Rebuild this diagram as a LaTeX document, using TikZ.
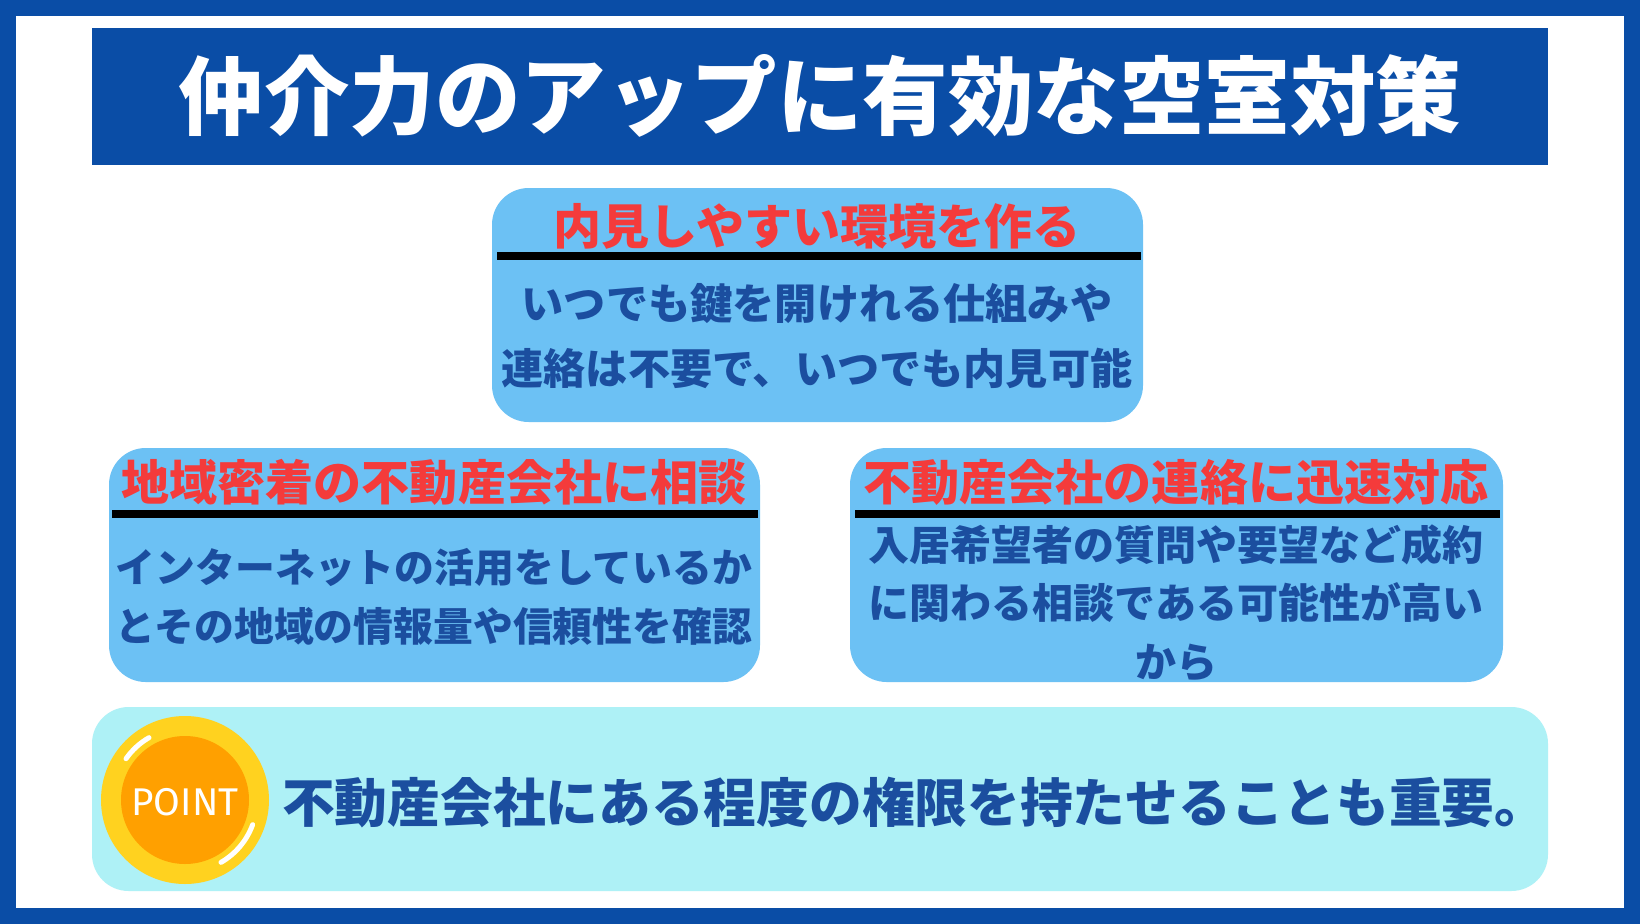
\documentclass[tikz,border=0pt]{standalone}
\usepackage{fontspec}
\newfontfamily\jp{Noto Sans CJK JP}
\newfontfamily\coinfont{Fira Sans}
\definecolor{frameblue}{HTML}{0A4DA6}
\definecolor{boxblue}{HTML}{6CC1F4}
\definecolor{headred}{HTML}{F43B3B}
\definecolor{textblue}{HTML}{1B4E9F}
\definecolor{pointbg}{HTML}{AEF1F6}
\definecolor{coinyel}{HTML}{FFD21F}
\definecolor{coinorg}{HTML}{FFA000}
\tikzset{
  card/.style={fill=boxblue, rounded corners=11mm},
  headtxt/.style={font=\jp\bfseries\fontsize{41}{46}\selectfont, text=headred},
  bodytxt/.style={font=\jp\bfseries\fontsize{34}{50}\selectfont, text=textblue, align=center},
  rule/.style={line width=2.4mm, black},
}
\begin{document}
\begin{tikzpicture}[x=0.3mm,y=-0.3mm]
\useasboundingbox (0,0) rectangle (1640,924);
\fill[frameblue] (0,0) rectangle (1640,924);
\fill[white] (16,16) rectangle (1624,908);

% title
\fill[frameblue] (92,28) rectangle (1548,165);
\node[font=\jp\bfseries\fontsize{73}{80}\selectfont, text=white] (title) at (820,96) {仲介力のアップに有効な空室対策};

% top card
\fill[card] (492,188) rectangle (1143,422);
\node[headtxt] (h1) at (817,226) {内見しやすい環境を作る};
\draw[rule] (497,256) -- (1141,256);
\node[bodytxt, font=\jp\bfseries\fontsize{36}{55}\selectfont] (b1) at (817,336) {いつでも鍵を開けれる仕組みや\\連絡は不要で、いつでも内見可能};

% left card
\fill[card] (109,448) rectangle (760,682);
\node[headtxt] (h2) at (434,482) {地域密着の不動産会社に相談};
\draw[rule] (112,514) -- (758,514);
\node[bodytxt] (b2) at (434,597) {インターネットの活用をしているか\\とその地域の情報量や信頼性を確認};

% right card
\fill[card] (850,448) rectangle (1503,682);
\node[headtxt] (h3) at (1176,482) {不動産会社の連絡に迅速対応};
\draw[rule] (855,514) -- (1500,514);
\node[bodytxt, font=\jp\bfseries\fontsize{35}{50}\selectfont] (b3) at (1176,603) {入居希望者の質問や要望など成約\\に関わる相談である可能性が高い\\から};

% point
\fill[pointbg, rounded corners=11mm] (92,707) rectangle (1548,891);
\fill[coinyel] (185,800) circle (84);
\draw[white, line width=1.5mm, line cap=round] (185,800) ++(60:72) arc (60:20:72);
\draw[white, line width=1.5mm, line cap=round] (185,800) ++(240:72) arc (240:215:72);
\fill[coinorg] (185,800) circle (64);
\node[font=\coinfont\fontsize{33}{33}\selectfont, text=white] (pt) at (185,802) {POINT};
\node[font=\jp\bfseries\fontsize{45}{50}\selectfont, text=textblue, anchor=west] (msg) at (278,803) {不動産会社にある程度の権限を持たせることも重要。};
\end{tikzpicture}
\end{document}
